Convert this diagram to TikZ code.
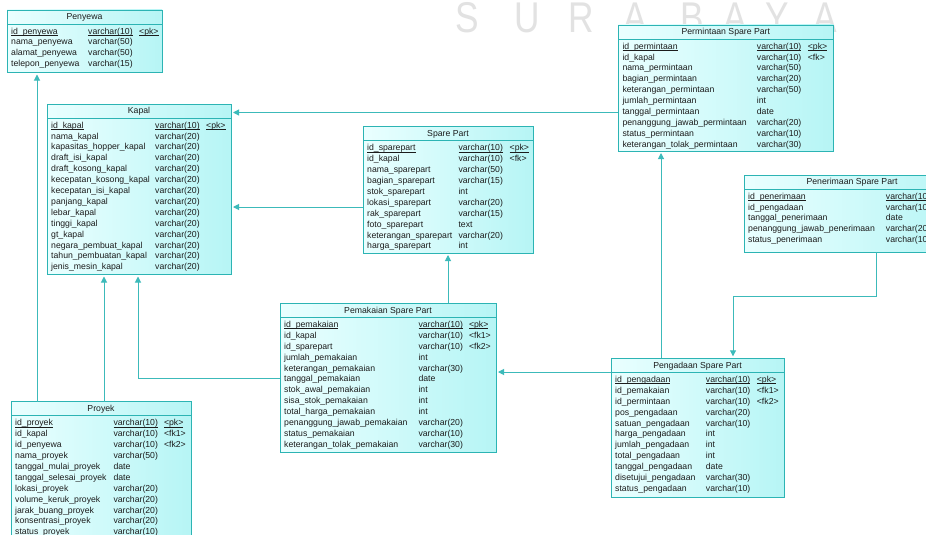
\documentclass[tikz,border=0pt]{standalone}
\usepackage{fontspec}
\setmainfont{Liberation Sans}
\usetikzlibrary{arrows.meta,calc}

\definecolor{boxL}{RGB}{234,255,255}
\definecolor{boxR}{RGB}{182,245,245}
\definecolor{tblborder}{RGB}{44,180,180}
\definecolor{relcol}{RGB}{60,186,186}
\definecolor{celltext}{RGB}{28,28,28}
\definecolor{wmark}{RGB}{226,226,226}

% key columns are underlined just below the baseline
\newcommand\pkul[1]{\setbox0=\hbox{#1}\rlap{\rule[-1.4pt]{\wd0}{0.5pt}}\box0}

\tikzset{
  tbl/.style={draw=tblborder, line width=0.9pt, left color=boxL, right color=boxR,
              inner sep=0pt, outer sep=0pt},
  ttl/.style={font=\fontsize{8.7}{10}\selectfont, text=celltext, inner sep=0pt},
  cell/.style={font=\fontsize{8.7}{10}\selectfont, text=celltext, inner sep=0pt, anchor=base west},
  tblline/.style={draw=tblborder, line width=0.8pt},
  rel/.style={draw=relcol, line width=1pt, -{Triangle[length=6pt,width=6pt]}, shorten >=2pt},
  wm/.style={font=\fontsize{43}{48}\selectfont, text=wmark, inner sep=0pt, anchor=base, xscale=0.82}
}

% \ertable{name}{x1}{y1}{x2}{y2}{title}{type column x}{key column x}{rows}
\newcommand\ertable[9]{%
  \pgfmathsetmacro\tblw{#4-#2}%
  \pgfmathsetmacro\tblh{#5-#3}%
  \node[tbl, minimum width=\tblw pt, minimum height=\tblh pt, anchor=north west] (#1) at (#2,#3) {};
  \node[ttl] (#1-title) at ({(#2+#4)/2},{#3+7.5}) {#6};
  \draw[tblline] (#2,{#3+14}) -- (#4,{#3+14});
  \foreach \a/\b/\c [count=\i] in {#9} {
    \pgfmathsetmacro\rowy{#3+21+(\i-1)*10.9+3.1}
    \node[cell] (#1-n\i) at ({#2+4},\rowy) {\a};
    \node[cell] (#1-t\i) at (#7,\rowy) {\b};
    \node[cell] (#1-k\i) at (#8,\rowy) {\c};
  }
}

\begin{document}
\begin{tikzpicture}[x=1pt,y=-1pt]
\useasboundingbox (0,0) rectangle (926,535);
\clip (0,0) rectangle (926,535);
\fill[white] (0,0) rectangle (926,535);

% watermark lettering
\foreach \ch/\px [count=\j] in {S/467,U/527,R/581,A/635,B/692,A/735,Y/777,A/825}
  \node[wm] (wm\j) at (\px,33) {\ch};

% tables
\ertable{penyewa}{7}{10}{162}{72.5}{Penyewa}{88}{139}{%
  \pkul{id\_penyewa}/\pkul{varchar(10)}/\pkul{<pk>},
  nama\_penyewa/varchar(50)/{},
  alamat\_penyewa/varchar(50)/{},
  telepon\_penyewa/varchar(15)/{}}

\ertable{kapal}{47}{104}{231}{274.5}{Kapal}{155}{206}{%
  \pkul{id\_kapal}/\pkul{varchar(10)}/\pkul{<pk>},
  nama\_kapal/varchar(20)/{},
  kapasitas\_hopper\_kapal/varchar(20)/{},
  draft\_isi\_kapal/varchar(20)/{},
  draft\_kosong\_kapal/varchar(20)/{},
  kecepatan\_kosong\_kapal/varchar(20)/{},
  kecepatan\_isi\_kapal/varchar(20)/{},
  panjang\_kapal/varchar(20)/{},
  lebar\_kapal/varchar(20)/{},
  tinggi\_kapal/varchar(20)/{},
  gt\_kapal/varchar(20)/{},
  negara\_pembuat\_kapal/varchar(20)/{},
  tahun\_pembuatan\_kapal/varchar(20)/{},
  jenis\_mesin\_kapal/varchar(20)/{}}

\ertable{sparepart}{363}{126.7}{533}{253}{Spare Part}{458.3}{509.5}{%
  \pkul{id\_sparepart}/\pkul{varchar(10)}/\pkul{<pk>},
  id\_kapal/varchar(10)/<fk>,
  nama\_sparepart/varchar(50)/{},
  bagian\_sparepart/varchar(15)/{},
  stok\_sparepart/int/{},
  lokasi\_sparepart/varchar(20)/{},
  rak\_sparepart/varchar(15)/{},
  foto\_sparepart/text/{},
  keterangan\_sparepart/varchar(20)/{},
  harga\_sparepart/int/{}}

\ertable{permintaan}{618.3}{25}{833.3}{151}{Permintaan Spare Part}{756.7}{807.7}{%
  \pkul{id\_permintaan}/\pkul{varchar(10)}/\pkul{<pk>},
  id\_kapal/varchar(10)/<fk>,
  nama\_permintaan/varchar(50)/{},
  bagian\_permintaan/varchar(20)/{},
  keterangan\_permintaan/varchar(50)/{},
  jumlah\_permintaan/int/{},
  tanggal\_permintaan/date/{},
  penanggung\_jawab\_permintaan/varchar(20)/{},
  status\_permintaan/varchar(10)/{},
  keterangan\_tolak\_permintaan/varchar(30)/{}}

\ertable{penerimaan}{744}{175}{960}{252}{Penerimaan Spare Part}{885.7}{937}{%
  \pkul{id\_penerimaan}/\pkul{varchar(10)}/{},
  id\_pengadaan/varchar(10)/{},
  tanggal\_penerimaan/date/{},
  penanggung\_jawab\_penerimaan/varchar(20)/{},
  status\_penerimaan/varchar(10)/{}}

\ertable{pemakaian}{280}{303.3}{496}{452.7}{Pemakaian Spare Part}{418.3}{468.8}{%
  \pkul{id\_pemakaian}/\pkul{varchar(10)}/\pkul{<pk>},
  id\_kapal/varchar(10)/<fk1>,
  id\_sparepart/varchar(10)/<fk2>,
  jumlah\_pemakaian/int/{},
  keterangan\_pemakaian/varchar(30)/{},
  tanggal\_pemakaian/date/{},
  stok\_awal\_pemakaian/int/{},
  sisa\_stok\_pemakaian/int/{},
  total\_harga\_pemakaian/int/{},
  penanggung\_jawab\_pemakaian/varchar(20)/{},
  status\_pemakaian/varchar(10)/{},
  keterangan\_tolak\_pemakaian/varchar(30)/{}}

\ertable{pengadaan}{611}{358.3}{784}{497}{Pengadaan Spare Part}{705.7}{756.7}{%
  \pkul{id\_pengadaan}/\pkul{varchar(10)}/\pkul{<pk>},
  id\_pemakaian/varchar(10)/<fk1>,
  id\_permintaan/varchar(10)/<fk2>,
  pos\_pengadaan/varchar(20)/{},
  satuan\_pengadaan/varchar(10)/{},
  harga\_pengadaan/int/{},
  jumlah\_pengadaan/int/{},
  total\_pengadaan/int/{},
  tanggal\_pengadaan/date/{},
  disetujui\_pengadaan/varchar(30)/{},
  status\_pengadaan/varchar(10)/{}}

\ertable{proyek}{11}{401.7}{191}{545}{Proyek}{113.3}{163.8}{%
  \pkul{id\_proyek}/\pkul{varchar(10)}/\pkul{<pk>},
  id\_kapal/varchar(10)/<fk1>,
  id\_penyewa/varchar(10)/<fk2>,
  nama\_proyek/varchar(50)/{},
  tanggal\_mulai\_proyek/date/{},
  tanggal\_selesai\_proyek/date/{},
  lokasi\_proyek/varchar(20)/{},
  volume\_keruk\_proyek/varchar(20)/{},
  jarak\_buang\_proyek/varchar(20)/{},
  konsentrasi\_proyek/varchar(20)/{},
  status\_proyek/varchar(10)/{}}

% relationships (child -> parent)
\draw[rel] ([xshift=26pt]proyek.north west) -- ([xshift=26pt]proyek.north west |- penyewa.south);
\draw[rel] ([xshift=93pt]proyek.north west) -- ([xshift=93pt]proyek.north west |- kapal.south);
\draw[rel] ([yshift=-74.7pt]pemakaian.north west) -| ([xshift=91pt]kapal.south west);
\draw[rel] ([xshift=168pt]pemakaian.north west) -- ([xshift=168pt]pemakaian.north west |- sparepart.south);
\draw[rel] ([yshift=-80.3pt]sparepart.north west) -- ([yshift=-80.3pt]sparepart.north west -| kapal.east);
\draw[rel] ([yshift=-87.5pt]permintaan.north west) -- ([yshift=-87.5pt]permintaan.north west -| kapal.east);
\draw[rel] ([xshift=50pt]pengadaan.north west) -- ([xshift=50pt]pengadaan.north west |- permintaan.south);
\draw[rel] ([yshift=-13.7pt]pengadaan.north west) -- ([yshift=-13.7pt]pengadaan.north west -| pemakaian.east);
\draw[rel] ([xshift=132pt]penerimaan.south west) -- ++(0,44) -| ([xshift=122pt]pengadaan.north west);
\end{tikzpicture}
\end{document}
